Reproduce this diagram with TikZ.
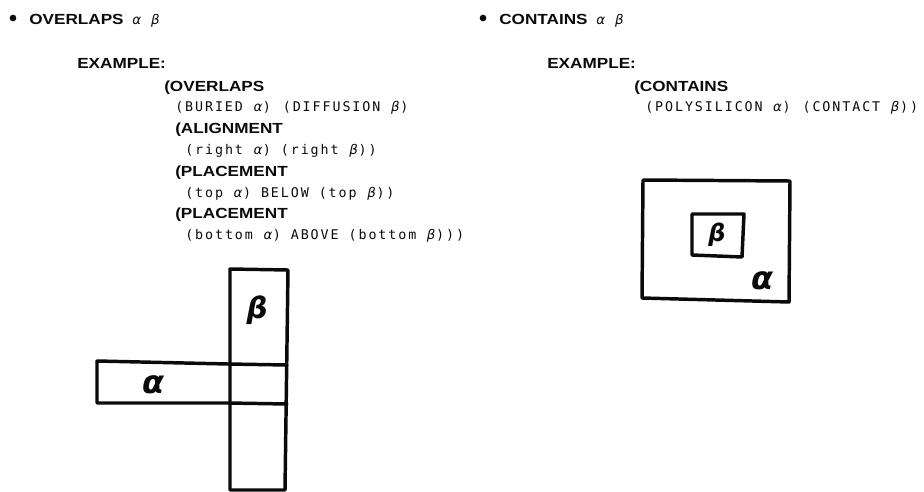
\documentclass[tikz,border=0pt]{standalone}
\usepackage{fontspec}
\setmainfont{Liberation Sans}
\newfontfamily\headfont[FakeStretch=1.17]{Liberation Sans}
\newfontfamily\codefont[LetterSpace=14.4]{DejaVu Sans Mono}
\newfontfamily\greekfont{DejaVu Sans}
\usepackage{tikz}
\definecolor{InkBlack}{HTML}{0A0A0A}
\tikzset{
    headtext/.style={anchor=base west, inner sep=0pt, text=InkBlack, font=\fontsize{11}{13}\headfont\bfseries},
    codetext/.style={anchor=base west, inner sep=0pt, text=InkBlack, font=\fontsize{10}{12}\codefont},
    handtext/.style={inner sep=0pt, text=InkBlack, font=\fontsize{#1}{#1}\greekfont\bfseries\itshape},
    handline/.style={color=InkBlack, line width=2.6pt, line cap=round, line join=round}
}
\newcommand{\ga}{\makebox[7.46pt]{\greekfont\itshape α}}
\newcommand{\gb}{\makebox[7.46pt]{\greekfont\itshape β}}
\newcommand{\headpair}{\hspace*{6.5pt}{\mdseries\fontsize{10}{12}\greekfont\itshape α\hspace*{7.5pt}β}}
\begin{document}
\begin{tikzpicture}[x=0.75pt, y=-0.75pt]
    \useasboundingbox (0,0) rectangle (924,492);

    % left column
    \node[circle, fill=InkBlack, inner sep=0pt, minimum size=5pt] (overlapsdot) at (13,18) {};
    \node[headtext] (overlapshead) at (29,24.5) {OVERLAPS\headpair};
    \node[headtext] (overlapsexample) at (77,68.5) {EXAMPLE:};
    \node[headtext] (overlapsopen) at (164,91) {(OVERLAPS};
    \node[codetext] (buried) at (175,112) {(BURIED \ga)\ \hspace{1.5pt}(DIFFUSION \gb)};
    \node[headtext] (alignment) at (175,133) {(ALIGNMENT};
    \node[codetext] (rightedge) at (185,154) {(right \ga) (right \gb))};
    \node[headtext] (placementtop) at (175,176) {(PLACEMENT};
    \node[codetext] (topedge) at (185,197) {(top \ga) BELOW (top \gb))};
    \node[headtext] (placementbot) at (175,218) {(PLACEMENT};
    \node[codetext] (botedge) at (185,239) {(bottom \ga) ABOVE (bottom \gb)))};

    \draw[handline] (230,269) -- (288,270) -- (285,490) -- (230,490) -- cycle;
    \draw[handline] (97,361) -- (228,364) -- (287,365);
    \draw[handline] (97,361) -- (97,403) -- (228,403) -- (287,404);
    \node[handtext=22] (betaleft) at (257,310) {β};
    \node[handtext=24] (alphaleft) at (153,385) {α};

    % right column
    \node[circle, fill=InkBlack, inner sep=0pt, minimum size=5pt] (containsdot) at (483,18) {};
    \node[headtext] (containshead) at (499,24.5) {CONTAINS\headpair};
    \node[headtext] (containsexample) at (547,68.5) {EXAMPLE:};
    \node[headtext] (containsopen) at (634,91) {(CONTAINS};
    \node[codetext] (polysilicon) at (645,112) {(POLYSILICON \ga)\ \hspace{1.5pt}(CONTACT \gb))};

    \draw[handline] (643,180) -- (790,181) -- (789,302) -- (642,298) -- cycle;
    \draw[handline] (692,214) -- (744,214) -- (742,257) -- (692,255) -- cycle;
    \node[handtext=18] (betaright) at (717,235) {β};
    \node[handtext=24] (alpharight) at (762,281) {α};
\end{tikzpicture}
\end{document}
